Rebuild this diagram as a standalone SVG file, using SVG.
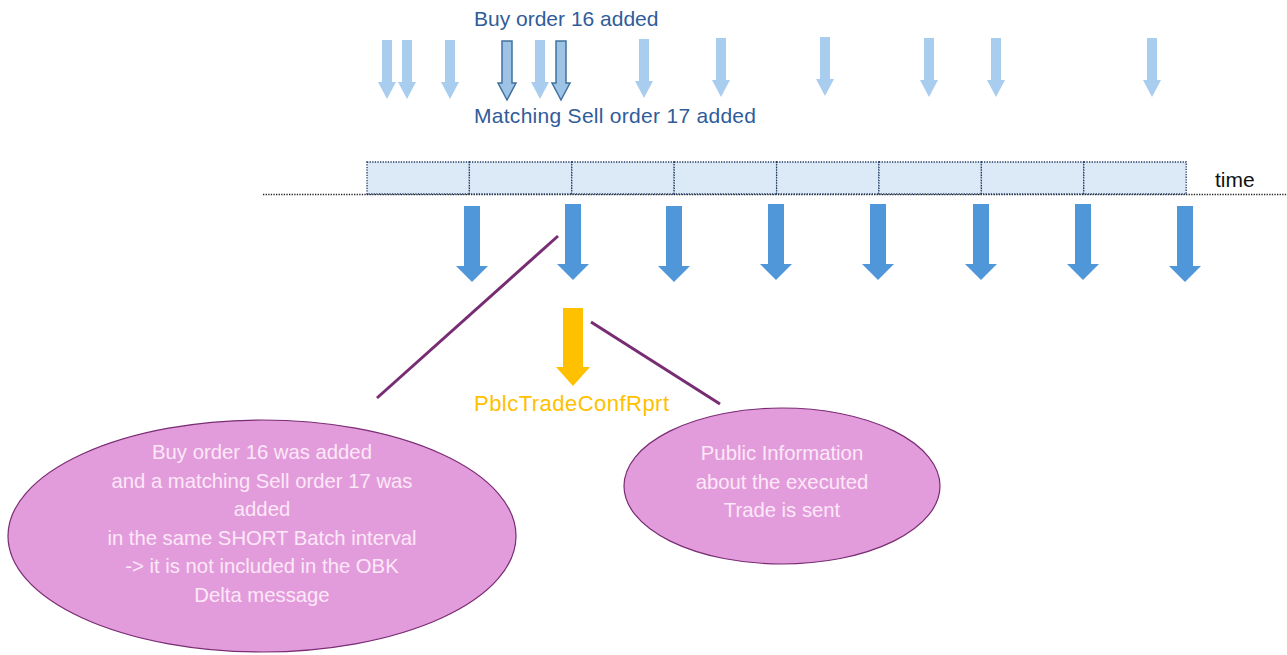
<svg xmlns="http://www.w3.org/2000/svg" xmlns:xlink="http://www.w3.org/1999/xlink" width="1287" height="655" viewBox="0 0 1287 655">
<style>
text{font-family:"Liberation Sans",Arial,sans-serif}
.lbl{fill:#2F5C9A;font-size:21px}
.ell{fill:#E39CDB;stroke:#7A2C74;stroke-width:1.2}
.et{fill:#FCE8F8;font-size:20.3px;text-anchor:middle}
.conn{stroke:#772C73;stroke-width:3;fill:none}
.cell{fill:#DCE9F6;stroke:#1F3864;stroke-width:1.3;stroke-dasharray:1.3 1.3}
</style>
<defs>
<path id="la" d="M-5,0H5V42H9L0,59L-9,42H-5Z" fill="#A9CDEE"/>
<path id="lo" d="M-5,0H5V42H9L0,59L-9,42H-5Z" fill="#9DC3E6" stroke="#41719C" stroke-width="1.5"/>
<path id="ba" d="M-8,0H8V60H16L0,76L-16,60H-8Z" fill="#5097DA"/>
</defs>
<g id="order-arrows">
<use xlink:href="#la" x="387" y="40"/>
<use xlink:href="#la" x="407" y="40"/>
<use xlink:href="#la" x="450" y="40"/>
<use xlink:href="#la" x="540" y="40"/>
<use xlink:href="#la" x="644" y="39"/>
<use xlink:href="#la" x="721" y="38"/>
<use xlink:href="#la" x="825" y="37"/>
<use xlink:href="#la" x="929" y="38"/>
<use xlink:href="#la" x="996" y="38"/>
<use xlink:href="#la" x="1152" y="38"/>
<use xlink:href="#lo" x="507" y="41"/>
<use xlink:href="#lo" x="561" y="41"/>
</g>
<g id="labels-top">
<text class="lbl" x="474" y="26">Buy order 16 added</text>
<text class="lbl" x="474" y="123" textLength="282">Matching Sell order 17 added</text>
</g>
<g id="timeline">
<line x1="263" y1="194.5" x2="1287" y2="194.5" stroke="#222" stroke-width="1.3" stroke-dasharray="1.3 1.3"/>
<rect class="cell" x="367" y="162" width="102.4" height="32"/>
<rect class="cell" x="469.4" y="162" width="102.4" height="32"/>
<rect class="cell" x="571.8" y="162" width="102.4" height="32"/>
<rect class="cell" x="674.2" y="162" width="102.4" height="32"/>
<rect class="cell" x="776.6" y="162" width="102.4" height="32"/>
<rect class="cell" x="879" y="162" width="102.4" height="32"/>
<rect class="cell" x="981.4" y="162" width="102.4" height="32"/>
<rect class="cell" x="1083.8" y="162" width="102.4" height="32"/>
<text x="1215" y="187" font-size="21" fill="#111">time</text>
</g>
<g id="batch-arrows">
<use xlink:href="#ba" x="472" y="206"/>
<use xlink:href="#ba" x="573" y="204"/>
<use xlink:href="#ba" x="674" y="206"/>
<use xlink:href="#ba" x="776" y="204"/>
<use xlink:href="#ba" x="878" y="204"/>
<use xlink:href="#ba" x="981" y="204"/>
<use xlink:href="#ba" x="1083" y="204"/>
<use xlink:href="#ba" x="1185" y="206"/>
</g>
<g id="trade-report">
<path d="M-10,0H10V59H17L0,78L-17,59H-10Z" transform="translate(573,308)" fill="#FFC000"/>
<text x="474" y="411" font-size="22" fill="#FFC000" textLength="195">PblcTradeConfRprt</text>
</g>
<g id="connectors">
<line class="conn" x1="558" y1="236" x2="377" y2="398"/>
<line class="conn" x1="591" y1="322" x2="720" y2="404"/>
</g>
<g id="note-left">
<ellipse class="ell" cx="262" cy="536" rx="254" ry="116"/>
<text class="et" x="262" y="459">Buy order 16 was added</text>
<text class="et" x="262" y="488">and a matching Sell order 17 was</text>
<text class="et" x="262" y="516">added</text>
<text class="et" x="262" y="545">in the same SHORT Batch interval</text>
<text class="et" x="262" y="573">-&gt; it is not included in the OBK</text>
<text class="et" x="262" y="602">Delta message</text>
</g>
<g id="note-right">
<ellipse class="ell" cx="782" cy="486" rx="158" ry="78"/>
<text class="et" x="782" y="460">Public Information</text>
<text class="et" x="782" y="489">about the executed</text>
<text class="et" x="782" y="517">Trade is sent</text>
</g>
</svg>
